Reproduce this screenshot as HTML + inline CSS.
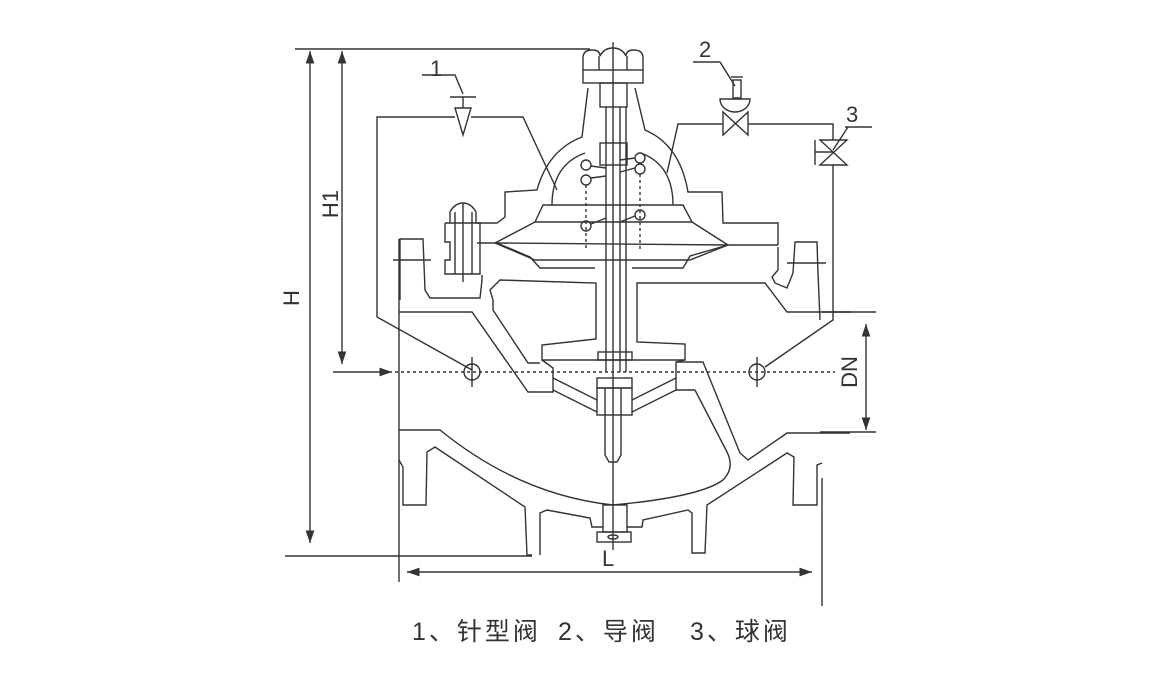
<!DOCTYPE html>
<html><head><meta charset="utf-8"><style>
html,body{margin:0;padding:0;background:#fff;}
svg{display:block;}
text{font-family:"Liberation Sans","Noto Sans CJK SC",sans-serif;fill:#333;}
</style></head><body>
<svg width="1158" height="680" viewBox="0 0 1158 680" xmlns="http://www.w3.org/2000/svg">
<defs>
<marker id="a" viewBox="0 0 10 10" refX="10" refY="5" markerWidth="9" markerHeight="9" orient="auto-start-reverse"><path d="M0,1.5 L10,5 L0,8.5z" fill="#333"/></marker>
</defs>
<g fill="none" stroke="#333" stroke-width="1.4">
<line x1="295" y1="49" x2="590" y2="49"/>
<line x1="310" y1="51" x2="310" y2="543" marker-start="url(#a)" marker-end="url(#a)"/>
<line x1="285" y1="556" x2="532" y2="556"/>
<line x1="342" y1="51" x2="342" y2="364" marker-start="url(#a)" marker-end="url(#a)"/>
<line x1="333" y1="372" x2="392" y2="372" marker-end="url(#a)"/>
<line x1="395" y1="372" x2="835" y2="372" stroke-dasharray="3,3"/>
<line x1="866" y1="324" x2="866" y2="430" marker-start="url(#a)" marker-end="url(#a)"/>
<line x1="822" y1="312" x2="876" y2="312"/>
<line x1="820" y1="432" x2="876" y2="432"/>
<line x1="407" y1="572" x2="812" y2="572" marker-start="url(#a)" marker-end="url(#a)"/>
<line x1="399" y1="239" x2="399" y2="582"/>
<line x1="822" y1="478" x2="822" y2="606"/>
<line x1="613" y1="42" x2="613" y2="550"/>
<polyline points="455,117 377,117 377,317 472,370"/>
<polyline points="471,117 523,117 557,190"/>
<polygon points="455,108 471,108 463,135"/>
<line x1="450" y1="97" x2="476" y2="97"/><line x1="463" y1="97" x2="463" y2="108"/>
<polyline points="422,75 455,75 463,94"/>
<polygon points="723,112 723,135 748,112 748,135"/>
<path d="M720,99 A15,13 0 0 0 750,99 Z"/>
<rect x="733" y="80" width="8" height="18"/><line x1="731" y1="77" x2="743" y2="77"/>
<polyline points="693,62 720,62 735,86"/>
<polyline points="723,124 678,124 667,173"/>
<polyline points="748,124 833,124 833,140"/>
<polygon points="820,140 847,140 820,165 847,165"/>
<line x1="815" y1="140" x2="815" y2="165"/><line x1="815" y1="152" x2="833" y2="152"/>
<polyline points="845,127 872,127"/><line x1="848" y1="127" x2="833" y2="150"/>
<polyline points="833,165 833,320 765,367"/>
<circle cx="472" cy="372" r="8"/><line x1="472" y1="357" x2="472" y2="387"/>
<circle cx="757" cy="372" r="8"/><line x1="757" y1="357" x2="757" y2="387"/>
<path d="M583,70 L583,58 Q583,50 592,50 Q600,50 600,56 Q604,48 613,48 Q622,48 626,56 Q626,50 634,50 Q643,50 643,58 L643,70"/>
<rect x="583" y="70" width="60" height="13"/>
<line x1="599" y1="56" x2="599" y2="70"/><line x1="627" y1="56" x2="627" y2="70"/>
<rect x="600" y="83" width="27" height="24"/>
<path d="M588,88 L582,137 Q548,150 537,190 L505,192 L505,217 L497,223 L477,223"/>
<path d="M635,88 L645,130 Q680,145 688,192 L722,192 L723,223 L778,223 L778,245"/>
<path d="M552,205 Q552,165 585,153 M641,153 Q673,165 673,205"/>
<rect x="600" y="143" width="27" height="22"/>
<path d="M535,222 L543,205 L683,205 L692,222 Z"/>
<polyline points="477,243 495,243 535,222"/>
<polyline points="692,222 728,245 778,245"/>
<polyline points="495,243 535,260 690,260 728,245"/>
<polyline points="497,243 530,257 540,268 595,268"/>
<polyline points="728,245 690,256 683,268 632,268"/>
<line x1="495" y1="243" x2="728" y2="245"/>
<circle cx="586" cy="165" r="5"/><circle cx="586" cy="180" r="5"/><circle cx="640" cy="158" r="5"/><circle cx="640" cy="169" r="5"/>
<circle cx="586" cy="226" r="5"/><circle cx="640" cy="215" r="5"/>
<line x1="591" y1="178" x2="606" y2="176"/><line x1="591" y1="166" x2="606" y2="168"/>
<line x1="620" y1="160" x2="635" y2="158"/><line x1="620" y1="172" x2="635" y2="168"/>
<line x1="591" y1="224" x2="606" y2="218"/><line x1="620" y1="222" x2="635" y2="216"/>
<line x1="586" y1="185" x2="586" y2="250" stroke-dasharray="3,3"/>
<line x1="640" y1="174" x2="640" y2="250" stroke-dasharray="3,3"/>
<path d="M450,223 L450,212 Q455,203 463,203 Q471,203 476,212 L476,223"/>
<polyline points="445,223 445,242 450,242 450,260 445,260 445,274 480,274 480,223 445,223"/>
<line x1="463" y1="203" x2="463" y2="282"/><line x1="455" y1="212" x2="455" y2="274"/><line x1="472" y1="212" x2="472" y2="274"/>
<line x1="606" y1="107" x2="606" y2="372"/><line x1="620" y1="107" x2="620" y2="372"/>
<line x1="626" y1="107" x2="626" y2="372"/>
<rect x="598" y="352" width="34" height="8"/>
<rect x="597" y="378" width="35" height="10"/>
<rect x="597" y="388" width="35" height="27"/>
<path d="M605,388 L605,455 L609,462 L617,462 L621,455 L621,388"/>
<polyline points="553,378 597,400"/><polyline points="553,390 597,412"/>
<polyline points="676,378 632,400"/><polyline points="676,390 632,412"/>
<polyline points="400,300 400,239 423,239 425,290 430,298 480,298 482,280 482,275"/>
<line x1="393" y1="260" x2="431" y2="260"/>
<polyline points="820,320 818,273 817,242 795,242 793,273 787,288 775,283 772,277 778,270 778,247"/>
<line x1="787" y1="263" x2="826" y2="263"/>
<polyline points="399,312 472,312 528,392 553,392 553,368 542,360"/>
<polyline points="493,300 493,310 528,363 540,363"/>
<polyline points="493,300 490,290 500,280 596,283 596,339 542,345 542,360 685,360 685,344 637,342 637,283 765,283 787,312 850,312"/>
<polyline points="685,360 676,362 676,390 695,390"/>
<polyline points="676,362 703,362 740,453 748,460 787,433 850,433"/>
<path d="M399,430 L440,430 Q520,495 613,505 Q700,497 723,480 Q735,468 727,452 L695,390"/>
<path d="M399,460 L403,467 L403,505 L426,505 L427,452 L435,447 L525,507 L527,555 L532,555"/>
<path d="M540,555 L540,513 L547,510 L590,518 L592,527 L603,527"/>
<path d="M822,463 L817,465 L817,505 L793,505 L794,457 L787,453 L707,505 L705,553 L692,553 L692,513 L688,510 L643,520 L642,527 L627,527"/>
<rect x="603" y="505" width="24" height="27"/>
<rect x="597" y="532" width="34" height="10"/>
<ellipse cx="613" cy="537" rx="5" ry="2"/>
</g>
<text x="430" y="76" font-size="22">1</text>
<text x="699" y="57" font-size="22">2</text>
<text x="846" y="122" font-size="22">3</text>
<text x="602" y="566" font-size="22">L</text>
<text transform="translate(299,298) rotate(-90)" font-size="22" text-anchor="middle">H</text>
<text transform="translate(338,204) rotate(-90)" font-size="22" text-anchor="middle">H1</text>
<text transform="translate(857,372) rotate(-90)" font-size="22" text-anchor="middle">DN</text>
<text x="412" y="640" font-size="25" letter-spacing="3">1、针型阀</text>
<text x="558" y="640" font-size="25" letter-spacing="3">2、导阀</text>
<text x="690" y="640" font-size="25" letter-spacing="3">3、球阀</text>
</svg>
</body></html>
